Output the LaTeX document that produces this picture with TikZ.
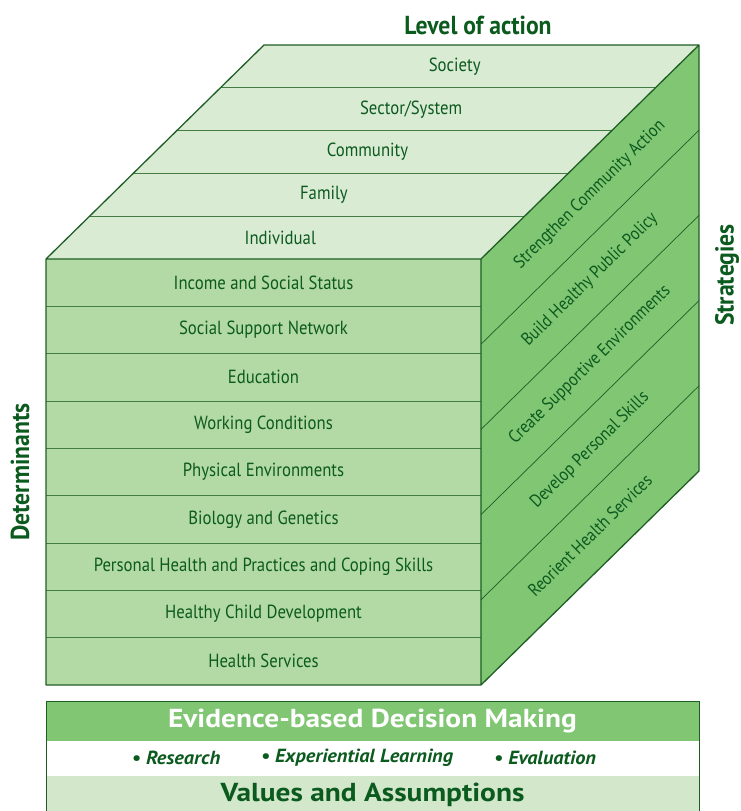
\documentclass[tikz,border=0pt]{standalone}
\usepackage{fontspec}
\setmainfont{PT Sans}
\newfontfamily\narrowfont[FakeStretch=0.88]{PT Sans}
\newfontfamily\boldnarrow[FakeStretch=0.91]{PT Sans Bold}
\newfontfamily\widebold[FakeStretch=1.13]{PT Sans Bold}
\newfontfamily\wideitalic[FakeStretch=1.07]{PT Sans Bold Italic}
\usepackage{tikz}
\definecolor{topgreen}{HTML}{DAEBD4}
\definecolor{frontgreen}{HTML}{B3DAA4}
\definecolor{sidegreen}{HTML}{80C673}
\definecolor{valuesgreen}{HTML}{D3E7CB}
\definecolor{darkgreen}{HTML}{0B5A1E}
\definecolor{linegreen}{HTML}{1E5E24}

\begin{document}
\begin{tikzpicture}[x=1pt, y=-1pt,
    edge/.style={draw=linegreen, line width=1.3pt, line join=round},
    rowline/.style={draw=linegreen!75!frontgreen, line width=0.9pt},
    sideline/.style={draw=linegreen, line width=0.7pt},
    rowtext/.style={text=darkgreen, font=\narrowfont\fontsize{19}{22}\selectfont},
    sidetext/.style={text=darkgreen, font=\narrowfont\fontsize{18}{21}\selectfont, rotate=44.5, inner sep=0pt},
    heading/.style={text=darkgreen, font=\boldnarrow\fontsize{26}{30}\selectfont, inner sep=1pt},
    bandtext/.style={font=\widebold\fontsize{26}{30}\selectfont},
    bullettext/.style={text=darkgreen, font=\wideitalic\fontsize{19}{22}\selectfont}]
    \useasboundingbox (0,0) rectangle (741,811);
    \def\frontface{(46,259) rectangle (481,685)}
    \def\topface{(46,259) -- (264,45) -- (699,45) -- (481,259) -- cycle}
    \def\sideface{(481,259) -- (699,45) -- (699,471) -- (481,685) -- cycle}
    \fill [frontgreen] \frontface;
    \fill [topgreen] \topface;
    \fill [sidegreen] \sideface;
    \foreach \i in {1,...,8}
        \draw [rowline] (46,{259+47.333*\i}) -- (481,{259+47.333*\i});
    \foreach \i in {1,...,4}
        \draw [rowline] ({46+43.6*\i},{259-42.8*\i}) -- ({481+43.6*\i},{259-42.8*\i});
    \foreach \i in {1,...,4}
        \draw [sideline] (481,{259+85.2*\i}) -- (699,{45+85.2*\i});
    \draw [edge] \frontface \topface \sideface;

    \foreach \txt [count=\i] in {Income and Social Status, Social Support Network, Education,
        Working Conditions, Physical Environments, Biology and Genetics,
        Personal Health and Practices and Coping Skills, Healthy Child Development, Health Services}
        \node [rowtext] (det\i) at (263.5,{259+47.333*(\i-0.5)}) {\txt};
    \foreach \txt [count=\i] in {Individual, Family, Community, Sector/System, Society}
        \node [rowtext] (lvl\i) at ({258.5+43.6*(\i-0.5)},{259-42.8*(\i-0.5)}) {\txt};
    \foreach \txt [count=\i] in {Strengthen Community Action, Build Healthy Public Policy,
        Create Supportive Environments, Develop Personal Skills, Reorient Health Services}
        \node [sidetext] (strat\i) at (590,{152+85.2*(\i-0.5)}) {\txt};

    \node [heading] (level) at (478,25) {Level of action};
    \node [heading, rotate=90] (strategies) at (727,275) {Strategies};
    \node [heading, rotate=90] (determinants) at (20,472) {Determinants};

    \fill [sidegreen] (46,701) rectangle (699,741);
    \fill [valuesgreen] (46,776) rectangle (699,813);
    \draw [linegreen, line width=1pt] (46,813) -- (46,701) -- (699,701) -- (699,813);
    \node [bandtext, text=white] (evidence) at (372.5,721) {Evidence-based Decision Making};
    \node [bullettext] (research) at (176,758) {• Research};
    \node [bullettext] (learning) at (357,758) {• Experiential Learning};
    \node [bullettext] (evaluation) at (545,758) {• Evaluation};
    \node [bandtext, text=darkgreen] (values) at (372.5,795) {Values and Assumptions};
\end{tikzpicture}
\end{document}
